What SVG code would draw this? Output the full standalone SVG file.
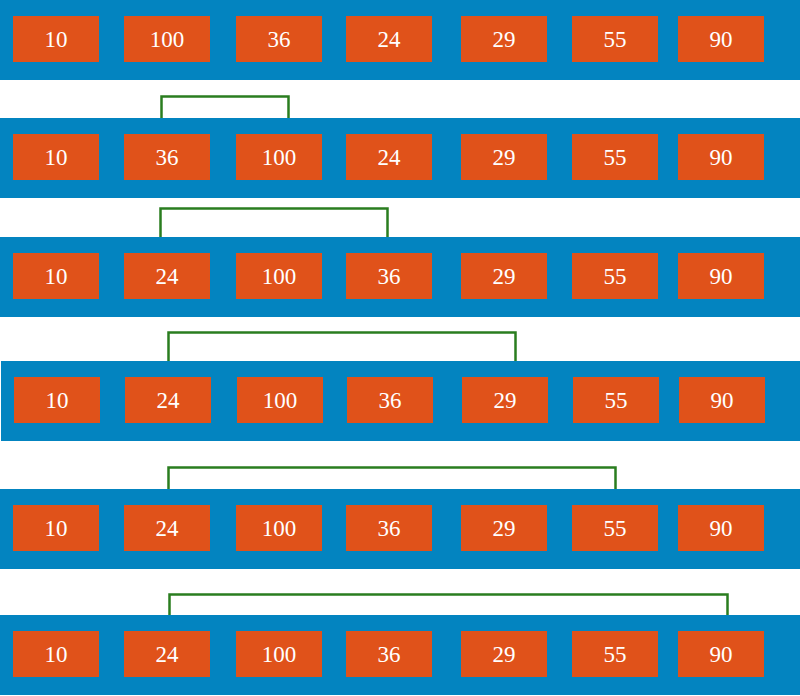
<svg xmlns="http://www.w3.org/2000/svg" width="800" height="696" viewBox="0 0 800 696">
<style>
.band{fill:#0384c0}
.box{fill:#e0521a}
.t{font-family:"Liberation Serif","DejaVu Serif",serif;font-size:23px;fill:#ffffff;text-anchor:middle}
.br{fill:none;stroke:#2a7d1f;stroke-width:2.5}
</style>
<rect width="800" height="696" fill="#ffffff"/>
<g id="row1">
<rect class="band" x="0" y="0" width="800" height="80"/>
<rect class="box" x="13" y="16" width="86" height="46"/><text class="t" x="56" y="47">10</text>
<rect class="box" x="124" y="16" width="86" height="46"/><text class="t" x="167" y="47">100</text>
<rect class="box" x="236" y="16" width="86" height="46"/><text class="t" x="279" y="47">36</text>
<rect class="box" x="346" y="16" width="86" height="46"/><text class="t" x="389" y="47">24</text>
<rect class="box" x="461" y="16" width="86" height="46"/><text class="t" x="504" y="47">29</text>
<rect class="box" x="572" y="16" width="86" height="46"/><text class="t" x="615" y="47">55</text>
<rect class="box" x="678" y="16" width="86" height="46"/><text class="t" x="721" y="47">90</text>
</g>
<g id="row2">
<rect class="band" x="0" y="118" width="800" height="80"/>
<rect class="box" x="13" y="134" width="86" height="46"/><text class="t" x="56" y="165">10</text>
<rect class="box" x="124" y="134" width="86" height="46"/><text class="t" x="167" y="165">36</text>
<rect class="box" x="236" y="134" width="86" height="46"/><text class="t" x="279" y="165">100</text>
<rect class="box" x="346" y="134" width="86" height="46"/><text class="t" x="389" y="165">24</text>
<rect class="box" x="461" y="134" width="86" height="46"/><text class="t" x="504" y="165">29</text>
<rect class="box" x="572" y="134" width="86" height="46"/><text class="t" x="615" y="165">55</text>
<rect class="box" x="678" y="134" width="86" height="46"/><text class="t" x="721" y="165">90</text>
</g>
<g id="row3">
<rect class="band" x="0" y="237" width="800" height="80"/>
<rect class="box" x="13" y="253" width="86" height="46"/><text class="t" x="56" y="284">10</text>
<rect class="box" x="124" y="253" width="86" height="46"/><text class="t" x="167" y="284">24</text>
<rect class="box" x="236" y="253" width="86" height="46"/><text class="t" x="279" y="284">100</text>
<rect class="box" x="346" y="253" width="86" height="46"/><text class="t" x="389" y="284">36</text>
<rect class="box" x="461" y="253" width="86" height="46"/><text class="t" x="504" y="284">29</text>
<rect class="box" x="572" y="253" width="86" height="46"/><text class="t" x="615" y="284">55</text>
<rect class="box" x="678" y="253" width="86" height="46"/><text class="t" x="721" y="284">90</text>
</g>
<g id="row4">
<rect class="band" x="1" y="361" width="799" height="80"/>
<rect class="box" x="14" y="377" width="86" height="46"/><text class="t" x="57" y="408">10</text>
<rect class="box" x="125" y="377" width="86" height="46"/><text class="t" x="168" y="408">24</text>
<rect class="box" x="237" y="377" width="86" height="46"/><text class="t" x="280" y="408">100</text>
<rect class="box" x="347" y="377" width="86" height="46"/><text class="t" x="390" y="408">36</text>
<rect class="box" x="462" y="377" width="86" height="46"/><text class="t" x="505" y="408">29</text>
<rect class="box" x="573" y="377" width="86" height="46"/><text class="t" x="616" y="408">55</text>
<rect class="box" x="679" y="377" width="86" height="46"/><text class="t" x="722" y="408">90</text>
</g>
<g id="row5">
<rect class="band" x="0" y="489" width="800" height="80"/>
<rect class="box" x="13" y="505" width="86" height="46"/><text class="t" x="56" y="536">10</text>
<rect class="box" x="124" y="505" width="86" height="46"/><text class="t" x="167" y="536">24</text>
<rect class="box" x="236" y="505" width="86" height="46"/><text class="t" x="279" y="536">100</text>
<rect class="box" x="346" y="505" width="86" height="46"/><text class="t" x="389" y="536">36</text>
<rect class="box" x="461" y="505" width="86" height="46"/><text class="t" x="504" y="536">29</text>
<rect class="box" x="572" y="505" width="86" height="46"/><text class="t" x="615" y="536">55</text>
<rect class="box" x="678" y="505" width="86" height="46"/><text class="t" x="721" y="536">90</text>
</g>
<g id="row6">
<rect class="band" x="0" y="615" width="800" height="80"/>
<rect class="box" x="13" y="631" width="86" height="46"/><text class="t" x="56" y="662">10</text>
<rect class="box" x="124" y="631" width="86" height="46"/><text class="t" x="167" y="662">24</text>
<rect class="box" x="236" y="631" width="86" height="46"/><text class="t" x="279" y="662">100</text>
<rect class="box" x="346" y="631" width="86" height="46"/><text class="t" x="389" y="662">36</text>
<rect class="box" x="461" y="631" width="86" height="46"/><text class="t" x="504" y="662">29</text>
<rect class="box" x="572" y="631" width="86" height="46"/><text class="t" x="615" y="662">55</text>
<rect class="box" x="678" y="631" width="86" height="46"/><text class="t" x="721" y="662">90</text>
</g>
<g id="connectors">
<polyline class="br" points="161.5,118 161.5,96.5 288.5,96.5 288.5,118"/>
<polyline class="br" points="160.5,237 160.5,208.5 387.5,208.5 387.5,237"/>
<polyline class="br" points="168.5,361 168.5,332.5 515.5,332.5 515.5,361"/>
<polyline class="br" points="168.5,489 168.5,467.5 615.5,467.5 615.5,489"/>
<polyline class="br" points="169.5,615 169.5,594.5 727.5,594.5 727.5,615"/>
</g>
</svg>
